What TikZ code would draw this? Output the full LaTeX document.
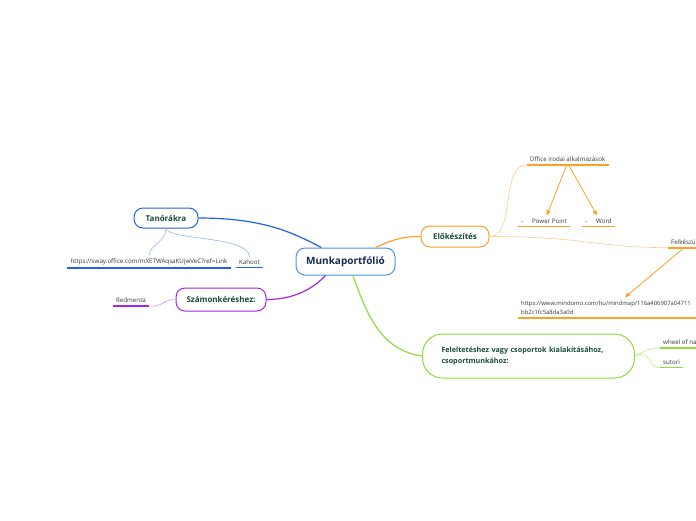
\documentclass[tikz,border=0pt]{standalone}
\usepackage{fontspec}
\setmainfont{Open Sans}
\usetikzlibrary{positioning,arrows.meta,calc}

\definecolor{rootblue}{RGB}{80,145,225}
\definecolor{navytext}{RGB}{25,40,85}
\definecolor{greentext}{RGB}{25,75,55}
\definecolor{leaftext}{RGB}{55,55,55}
\definecolor{tanblue}{RGB}{35,95,235}
\definecolor{tanlight}{RGB}{150,180,240}
\definecolor{szampurple}{RGB}{165,35,235}
\definecolor{szamlight}{RGB}{205,150,245}
\definecolor{eloorange}{RGB}{250,162,40}
\definecolor{elolight}{RGB}{250,205,145}
\definecolor{felgreen}{RGB}{140,222,60}
\definecolor{fellight}{RGB}{185,238,135}

\begin{document}
\begin{tikzpicture}[
    x=1pt, y=-1pt,
    font=\fontsize{6.2}{8}\selectfont,
    root/.style={
        draw=rootblue,
        line width=1pt,
        rounded corners=9pt,
        fill=white,
        minimum width=99pt,
        minimum height=27pt,
        text=navytext,
        font=\fontsize{10}{12}\selectfont\bfseries
    },
    branch/.style={
        line width=1pt,
        rounded corners=9pt,
        fill=white,
        minimum height=21pt,
        text=greentext,
        font=\fontsize{8}{11}\selectfont\bfseries
    },
    leaf/.style={inner xsep=3pt, inner ysep=3pt, text=leaftext},
    uline/.style={line width=1.8pt},
    link/.style={line width=1.2pt},
    twig/.style={line width=0.6pt},
    arrow/.style={-{Triangle[length=5pt,width=4pt]}, line width=0.8pt, eloorange}
]
\useasboundingbox (0,0) rectangle (696,520);
\clip (0,0) rectangle (696,520);

% ============================================================
% KÖZPONT ÉS FŐ ÁGAK
% ============================================================
\node[root] (root) at (345.5,261.5) {Munkaportfólió};
\node[branch, draw=tanblue, minimum width=64pt, minimum height=20pt] (tan) at (166,218) {Tanórákra};
\node[branch, draw=szampurple, minimum width=90pt, minimum height=23pt] (szam) at (221,299.5) {Számonkéréshez:};
\node[branch, draw=eloorange, minimum width=68pt] (elo) at (455,236.5) {Előkészítés};
\node[branch, draw=felgreen, rounded corners=20pt, anchor=west, inner xsep=19pt,
      text width=174pt, align=left, minimum height=44pt,
      font=\fontsize{7.2}{11.5}\selectfont\bfseries] (fel) at (422,356)
      {Feleltetéshez vagy csoportok kialakításához,\\csoportmunkához:};

\draw[link, tanblue] (tan.east) .. controls (262,218) and (292,232) .. (root.150);
\draw[link, szampurple] (root.-145) .. controls (312,290) and (292,299.5) .. (szam.east);
\draw[link, eloorange] (root.25) .. controls (392,240) and (402,236.5) .. (elo.west);
\draw[link, felgreen] (root.-62) .. controls (368,318) and (382,350) .. (fel.west);

% ============================================================
% TANÓRÁKRA
% ============================================================
\node[leaf] (sway) at (149,262) {https://sway.office.com/mXETWAqsaKUjwVeC?ref=Link};
\node[leaf] (kahoot) at (249.5,262) {Kahoot};
\draw[uline, tanblue] (sway.south west) -- (sway.south east);
\draw[uline, tanblue] (kahoot.south west) -- (kahoot.south east);
\draw[twig, tanlight] (tan.south) .. controls (166,242) and (150,244) .. (sway.north);
\draw[twig, tanlight] (tan.south) .. controls (168,240) and (248,236) .. (kahoot.north);

% ============================================================
% SZÁMONKÉRÉS
% ============================================================
\node[leaf] (redm) at (131,300.5) {Redmenta};
\draw[uline, szampurple] (redm.south west) -- (redm.south east);
\draw[twig, szamlight] (redm.south east) .. controls (164,307) and (162,299.5) .. (szam.west);

% ============================================================
% ELŐKÉSZÍTÉS
% ============================================================
\node[leaf] (office) at (567.5,159) {Office irodai alkalmazások};
\node[leaf] (pp) at (544,221) {-\hspace{9pt}Power Point};
\node[leaf] (word) at (598.5,221) {-\hspace{9pt}Word};
\node[leaf, anchor=west] (felk) at (668,242) {Felkészüléshez};
\node[leaf, anchor=west, align=left, font=\fontsize{5.9}{8.5}\selectfont] (url) at (518,308)
      {https://www.mindomo.com/hu/mindmap/116a406907a04711\\bb2c1fc5a8da3a0d};
\foreach \n in {office, pp, word, felk}
    \draw[uline, eloorange] (\n.south west) -- (\n.south east);
\draw[uline, eloorange] (url.south west) -- (url.south west -| 696,0);

\draw[twig, elolight] (elo.east) .. controls (516,236.5) and (500,166) .. (office.south west);
\draw[twig, elolight] (elo.east) .. controls (585,236.5) and (600,248) .. (felk.south west);

\draw[arrow] (office.-95) -- (pp.65);
\draw[arrow] (office.-80) -- (word.105);
\draw[arrow] ($(felk.south west)+(15,1)$) -- ($(url.north west)+(107,-1)$);

% ============================================================
% FELELTETÉS
% ============================================================
\node[leaf, anchor=west] (wheel) at (660,342) {wheel of names};
\node[leaf, anchor=west] (sutori) at (660,362) {sutori};
\draw[uline, felgreen] (wheel.south west) -- (wheel.south east);
\draw[uline, felgreen] (sutori.south west) -- (sutori.south east);
\draw[twig, fellight] (fel.east) .. controls (648,349) and (650,349) .. (wheel.south west);
\draw[twig, fellight] (fel.east) .. controls (652,349) and (648,369) .. (sutori.south west);

\end{tikzpicture}
\end{document}
